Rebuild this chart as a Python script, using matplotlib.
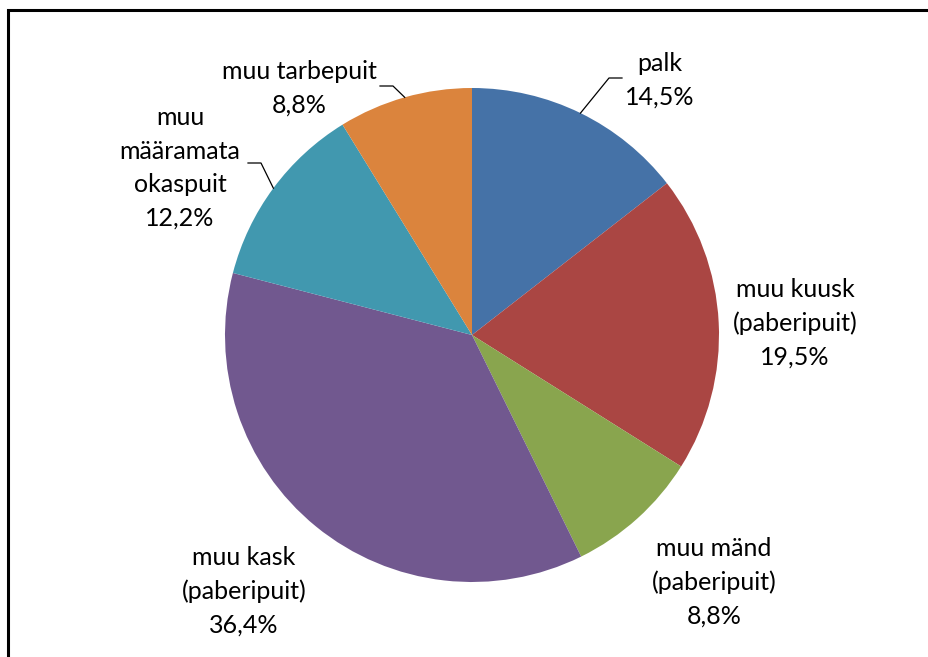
import numpy as np
import matplotlib
matplotlib.use("Agg")
import matplotlib.pyplot as plt

# wood assortments, share of volume (%)
names = ["palk", "muu kuusk\n(paberipuit)", "muu mänd\n(paberipuit)",
         "muu kask\n(paberipuit)", "muu\nmääramata\nokaspuit", "muu tarbepuit"]
shares = [14.5, 19.5, 8.8, 36.4, 12.2, 8.8]
colors = ["#4572A7", "#AA4643", "#89A54E", "#71588F", "#4198AF", "#DB843D"]

W, H = 929, 657
cx, cy, r = 472, H - 335, 247

# label centres (image px) and where the leader line leaves the text
label_pos = [(660, 80), (795, 323), (714, 582), (244, 591), (180, 168), (299, 88)]
leader = [(622, 78), None, None, None, (248, 163), (380, 86)]

plt.rcParams['font.family'] = ['Lato', 'DejaVu Sans']

fig = plt.figure(figsize=(W / 100, H / 100), dpi=100)
ax = fig.add_axes([0, 0, 1, 1])

wedges, _ = ax.pie(shares, colors=colors, startangle=90, counterclock=False,
                   radius=r, center=(cx, cy), frame=True,
                   wedgeprops=dict(linewidth=0))
ax.set_xlim(0, W)
ax.set_ylim(0, H)
ax.set_aspect("equal")
ax.axis("off")

for i, w in enumerate(wedges):
    lx, ly = label_pos[i]
    txt = names[i] + "\n" + ("%.1f%%" % shares[i]).replace(".", ",")
    ax.text(lx, H - ly, txt, ha="center", va="center", fontsize=18,
            linespacing=1.55, color="#000000")
    if leader[i] is not None:
        mid = np.deg2rad((w.theta1 + w.theta2) / 2)
        ex, ey = cx + r * np.cos(mid), cy + r * np.sin(mid)
        hx, hy = leader[i]
        hy = H - hy
        elbow = hx + np.sign(ex - hx) * 13
        ax.plot([hx, elbow, ex], [hy, hy, ey], color="black", lw=0.9)

# outer frame (only left and top edges fall inside the picture)
ax.plot([8, 8, W + 5], [-5, H - 10, H - 10], color="black", lw=2.2,
        solid_joinstyle="miter", clip_on=False)

fig.savefig("out.png", dpi=100)
